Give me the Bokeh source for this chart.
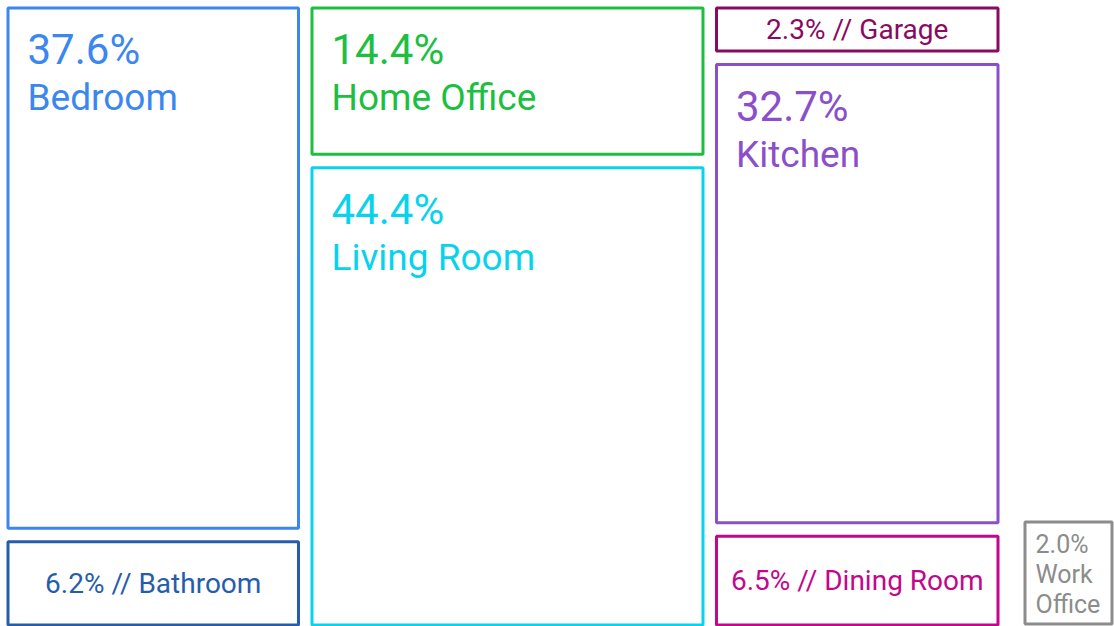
from bokeh.plotting import figure
from bokeh.models import ColumnDataSource, Range1d
from bokeh.core.properties import value
from bokeh.embed import file_html
from bokeh.resources import INLINE

# ---- data ----
names = ["Bedroom", "Bathroom", "Home Office", "Living Room",
         "Garage", "Kitchen", "Dining Room", "Work Office"]
shares = [37.6, 6.2, 14.4, 44.4, 2.3, 32.7, 6.5, 2.0]
groups = [0, 0, 1, 1, 2, 2, 2, 3]
colors = ["#3B87F0", "#265DAB", "#1CBF3F", "#08D3EE",
          "#8A0A62", "#8B4FCB", "#C3078C", "#8C8C8C"]

# ---- layout (pixel space 1114 x 626) ----
W, H = 1114, 626
X0, Y0, Y1 = 6, 6, 626
LW = 3
GAP = 10.5
MAIN_RIGHT = 999
MIN_H = 46
SMALL_W, SMALL_H = 90, 105
SMALL_RIGHT, SMALL_BOTTOM = 1113, 625

main_groups = sorted(set(g for g in groups if g != 3))


def column_heights(idx):
    avail_h = (Y1 - Y0) - GAP * (len(idx) - 1)
    fixed = {}
    while True:
        rem_h = avail_h - sum(fixed.values())
        rem_s = sum(shares[i] for i in idx if i not in fixed)
        changed = False
        for i in idx:
            if i not in fixed and rem_h * shares[i] / rem_s < MIN_H:
                fixed[i] = MIN_H
                changed = True
        if not changed:
            break
    rem_h = avail_h - sum(fixed.values())
    rem_s = sum(shares[i] for i in idx if i not in fixed)
    heights = [fixed.get(i, rem_h * shares[i] / rem_s) for i in idx]
    effective = rem_s * avail_h / rem_h
    return heights, effective


cols = {}
for g in main_groups:
    idx = [i for i, gg in enumerate(groups) if gg == g]
    hs, eff = column_heights(idx)
    cols[g] = (idx, hs, eff)
total_eff = sum(c[2] for c in cols.values())
avail_w = (MAIN_RIGHT - X0) - GAP * (len(main_groups) - 1)

rects = [None] * len(names)
cx = X0
for g in main_groups:
    idx, hs, eff = cols[g]
    cw = avail_w * eff / total_eff
    cy = Y0
    for i, h in zip(idx, hs):
        rects[i] = (cx, cx + cw, cy, cy + h)
        cy += h + GAP
    cx += cw + GAP

for i, g in enumerate(groups):
    if g == 3:
        rects[i] = (SMALL_RIGHT - SMALL_W, SMALL_RIGHT, SMALL_BOTTOM - SMALL_H, SMALL_BOTTOM)

half = LW / 2
box = ColumnDataSource(dict(
    left=[r[0] + half for r in rects],
    right=[r[1] - half for r in rects],
    top=[r[2] + half for r in rects],
    bottom=[r[3] - half for r in rects],
    color=colors,
))

p = figure(width=W, height=H, output_backend="svg", toolbar_location=None,
           x_range=Range1d(0, W), y_range=Range1d(H, 0),
           min_border=0, min_border_left=0, min_border_right=0,
           min_border_top=0, min_border_bottom=0)
p.axis.visible = False
p.grid.visible = False
p.outline_line_color = None
p.background_fill_color = "white"
p.border_fill_color = "white"

p.quad(left="left", right="right", top="top", bottom="bottom", source=box,
       fill_color="white", line_color="color", line_width=LW)

big_pct = dict(x=[], y=[], t=[], c=[])
big_name = dict(x=[], y=[], t=[], c=[])
one_line = dict(x=[], y=[], t=[], c=[])
stack = dict(x=[], y=[], t=[], c=[])
for i, (n, s, c) in enumerate(zip(names, shares, colors)):
    l, r, t, b = rects[i]
    pct = f"{s:.1f}%"
    if r - l < 150:
        for k, line in enumerate([pct] + n.split(" ")):
            stack["x"].append(l + 12)
            stack["y"].append(t + 24 + 30 * k)
            stack["t"].append(line)
            stack["c"].append(c)
    elif b - t >= 140:
        big_pct["x"].append(l + 21); big_pct["y"].append(t + 43)
        big_pct["t"].append(pct); big_pct["c"].append(c)
        big_name["x"].append(l + 21); big_name["y"].append(t + 91)
        big_name["t"].append(n); big_name["c"].append(c)
    else:
        one_line["x"].append((l + r) / 2); one_line["y"].append((t + b) / 2)
        one_line["t"].append(f"{pct} // {n}"); one_line["c"].append(c)

font = value("Roboto")
p.text(x="x", y="y", text="t", text_color="c", source=ColumnDataSource(big_pct),
       text_font=font, text_font_size="42px", text_align="left",
       text_baseline="alphabetic")
p.text(x="x", y="y", text="t", text_color="c", source=ColumnDataSource(big_name),
       text_font=font, text_font_size="37px", text_align="left",
       text_baseline="alphabetic")
p.text(x="x", y="y", text="t", text_color="c", source=ColumnDataSource(one_line),
       text_font=font, text_font_size="28px", text_align="center",
       text_baseline="middle")
p.text(x="x", y="y", text="t", text_color="c", source=ColumnDataSource(stack),
       text_font=font, text_font_size="25px", text_align="left",
       text_baseline="alphabetic")

open("out.html", "w").write(file_html(p, INLINE))
